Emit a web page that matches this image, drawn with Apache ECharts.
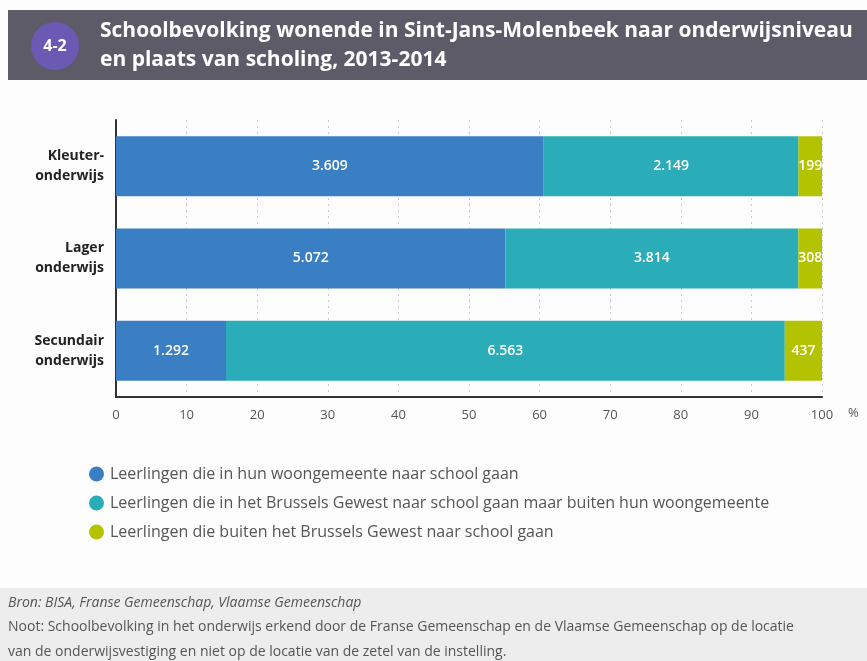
<!DOCTYPE html>
<html>
<head>
    <meta charset="utf-8">
    <title>Schoolbevolking Sint-Jans-Molenbeek</title>
    <script src="https://cdn.jsdelivr.net/npm/echarts@6/dist/echarts.min.js"></script>
    <style>
        html, body { margin: 0; padding: 0; background: #fff; }
    </style>
</head>
<body>
<div id="main" style="width: 867px; height: 661px;"></div>
<script type="text/javascript">
    // categorieën en aantallen leerlingen
    var categories = ['Kleuter-\nonderwijs', 'Lager\nonderwijs', 'Secundair\nonderwijs'];
    var seriesNames = [
        'Leerlingen die in hun woongemeente naar school gaan',
        'Leerlingen die in het Brussels Gewest naar school gaan maar buiten hun woongemeente',
        'Leerlingen die buiten het Brussels Gewest naar school gaan'
    ];
    var inGemeente = [3609, 5072, 1292];
    var inGewest = [2149, 3814, 6563];
    var buitenGewest = [199, 308, 437];
    var xTicks = [0, 10, 20, 30, 40, 50, 60, 70, 80, 90, 100];
    var colors = ['#3a7fc3', '#2aadb8', '#b3c300'];

    var counts = [inGemeente, inGewest, buitenGewest];
    var totals = categories.map(function (c, i) {
        return inGemeente[i] + inGewest[i] + buitenGewest[i];
    });

    function fmt(n) {
        return String(n).replace(/\B(?=(\d{3})+(?!\d))/g, '.');
    }

    var myChart = echarts.init(document.getElementById('main'));
    var font = 'Open Sans';

    var series = counts.map(function (arr, s) {
        return {
            name: seriesNames[s],
            type: 'bar',
            stack: 'totaal',
            barWidth: '65%',
            itemStyle: { color: colors[s] },
            label: {
                show: true,
                position: 'inside',
                color: '#fff',
                fontFamily: font,
                fontSize: 14,
                fontWeight: 600,
                formatter: function (p) {
                    return fmt(arr[p.dataIndex]);
                }
            },
            data: arr.map(function (v, i) {
                return v / totals[i] * 100;
            })
        };
    });

    var option = {
        backgroundColor: '#fdfdfd',
        textStyle: { fontFamily: font },
        animation: false,
        grid: { left: 116, right: 45, top: 120, bottom: 264 },
        xAxis: {
            type: 'value',
            min: 0,
            max: 100,
            interval: 10,
            name: '%',
            nameLocation: 'end',
            nameGap: 26,
            nameTextStyle: { color: '#555', fontSize: 13, verticalAlign: 'top', padding: [10, 0, 0, 0] },
            axisLine: { show: true, lineStyle: { color: '#333', width: 2 } },
            axisTick: { show: false },
            axisLabel: {
                color: '#555', fontSize: 13, margin: 12,
                formatter: function (v) { return xTicks.indexOf(v) >= 0 ? String(v) : ''; }
            },
            splitLine: { show: true, lineStyle: { color: '#c8c8c8', type: [2, 4], width: 1 } }
        },
        yAxis: {
            type: 'category',
            data: categories,
            inverse: true,
            axisLine: { show: true, lineStyle: { color: '#333', width: 2 } },
            axisTick: { show: false },
            axisLabel: {
                color: '#222', fontSize: 14, fontWeight: 'bold', margin: 12,
                lineHeight: 20, align: 'right'
            }
        },
        legend: {
            orient: 'vertical',
            left: 84,
            top: 461,
            icon: 'circle',
            itemWidth: 15,
            itemHeight: 15,
            itemGap: 13,
            selectedMode: false,
            textStyle: { color: '#555', fontSize: 16, padding: [0, 0, 0, 1] },
            data: seriesNames
        },
        graphic: [
            { type: 'rect', shape: { x: 8, y: 10, width: 859, height: 70 }, style: { fill: '#5e5b69' }, z: 0 },
            { type: 'circle', shape: { cx: 55, cy: 46, r: 24 }, style: { fill: '#6a5ab3' }, z: 1 },
            { type: 'text', x: 55, y: 46, style: { text: '4-2', fill: '#fff', font: 'bold 16px "Open Sans"', align: 'center', verticalAlign: 'middle' }, z: 2 },
            { type: 'text', x: 100, y: 21, style: { text: 'Schoolbevolking wonende in Sint-Jans-Molenbeek naar onderwijsniveau', fill: '#fff', font: 'bold 21px "Open Sans"' }, z: 2 },
            { type: 'text', x: 100, y: 50, style: { text: 'en plaats van scholing, 2013-2014', fill: '#fff', font: 'bold 21px "Open Sans"' }, z: 2 },
            { type: 'rect', shape: { x: 0, y: 588, width: 867, height: 73 }, style: { fill: '#ededed' }, z: 0 },
            { type: 'text', x: 8, y: 596, style: { text: 'Bron: BISA, Franse Gemeenschap, Vlaamse Gemeenschap', fill: '#555', font: 'italic 14px "Open Sans"' }, z: 2 },
            { type: 'text', x: 8, y: 620, style: { text: 'Noot: Schoolbevolking in het onderwijs erkend door de Franse Gemeenschap en de Vlaamse Gemeenschap op de locatie', fill: '#555', font: '14px "Open Sans"' }, z: 2 },
            { type: 'text', x: 8, y: 645, style: { text: 'van de onderwijsvestiging en niet op de locatie van de zetel van de instelling.', fill: '#555', font: '14px "Open Sans"' }, z: 2 }
        ],
        series: series
    };

    myChart.setOption(option);
</script>
</body>
</html>
